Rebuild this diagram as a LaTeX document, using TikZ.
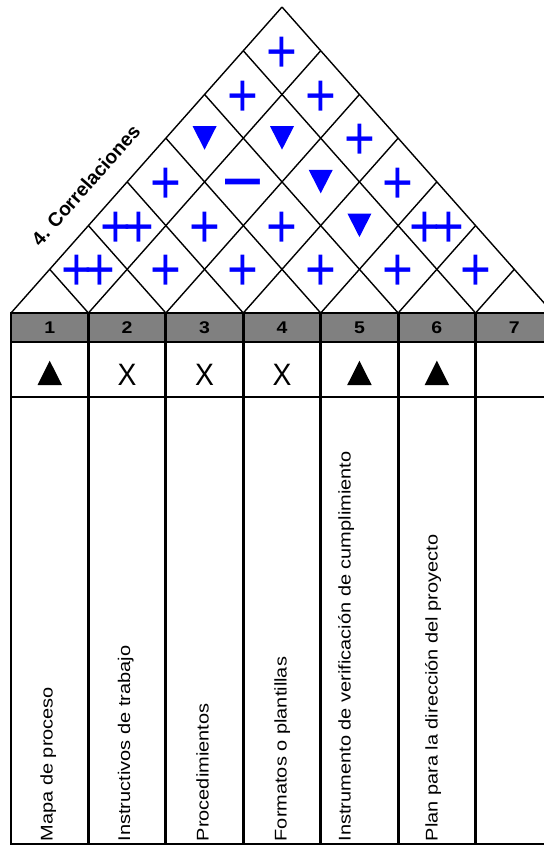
\documentclass[tikz,border=0pt]{standalone}
\usepackage{fontspec}
\setmainfont{Liberation Sans}
\usepackage{graphicx}
\definecolor{hdrgray}{RGB}{128,128,128}
\definecolor{symblue}{RGB}{0,0,255}
\newcommand\cellxy[2]{\pgfmathsetmacro\symx{11+77.43*(#2+(#1-1)/2)}\pgfmathsetmacro\symy{313-43.71*#1}}
\newcommand\Pone[3]{\cellxy{#1}{#2}\node[bsym] (#3) at (\symx,\symy+21.7) {\scalebox{1}[1.16]{+}};}
\newcommand\Ptwo[3]{\cellxy{#1}{#2}\node[bsym] (#3) at (\symx,\symy+21.7) {\scalebox{1}[1.16]{+\kern-7.6bp+}};}
\newcommand\Pminus[3]{\cellxy{#1}{#2}\node[bsym,font=\fontsize{63}{63}\selectfont] (#3) at (\symx,\symy+22) {\scalebox{1}[1.35]{–}};}
\newcommand\Pdown[2]{\cellxy{#1}{#2}\fill[symblue] (\symx-12,\symy-12) -- (\symx+12,\symy-12) -- (\symx,\symy+11.5) -- cycle;}
\begin{document}
\begin{tikzpicture}[x=1bp,y=-1bp,
  grid/.style={draw=black,line width=1.4bp},
  tbl/.style={draw=black,line width=2.8bp},
  bsym/.style={anchor=base,inner sep=0,text=symblue,font=\fontsize{53}{53}\selectfont},
  hdr/.style={inner sep=0,font=\bfseries\fontsize{17}{17}\selectfont},
  xmark/.style={anchor=base,inner sep=0,font=\fontsize{27}{27}\selectfont},
  coltext/.style={rotate=90,anchor=base west,inner sep=0,font=\fontsize{17}{17}\selectfont},
  title/.style={rotate=48.7,inner sep=0,font=\bfseries\fontsize{19.5}{19.5}\selectfont}]
\useasboundingbox (0,0) rectangle (544,846);
\clip (0,0) rectangle (544,846);
% header band
\fill[hdrgray] (11,313) rectangle (553,342);
% correlation triangle grid
\foreach \i in {0,...,7} {
  \pgfmathsetmacro\xa{11+77.43*\i}
  \pgfmathsetmacro\xr{(\xa+553)/2}
  \pgfmathsetmacro\yr{313-(553-\xa)/2*1.129}
  \pgfmathsetmacro\xl{(11+\xa)/2}
  \pgfmathsetmacro\yl{313-(\xa-11)/2*1.129}
  \draw[grid] (\xa,313) -- (\xr,\yr);
  \draw[grid] (\xa,313) -- (\xl,\yl);
}
% table lines
\draw[tbl] (11,313) rectangle (553,844);
\draw[tbl] (11,342) -- (553,342);
\draw[tbl] (11,397) -- (553,397);
\foreach \i in {1,...,6} {
  \pgfmathsetmacro\xa{11+77.43*\i}
  \draw[tbl] (\xa,313) -- (\xa,844);
}
% header numbers
\foreach \i in {1,...,7} {
  \pgfmathsetmacro\xc{11+77.43*(\i-0.5)}
  \node[hdr] (h\i) at (\xc,327.5) {\scalebox{1.15}[1]{\i}};
}
% importance row
\foreach \i in {1,5,6} {
  \pgfmathsetmacro\xc{11+77.43*(\i-0.5)}
  \fill[black] (\xc-12.2,385) -- (\xc+12.2,385) -- (\xc,360.7) -- cycle;
}
\foreach \i in {2,3,4} {
  \pgfmathsetmacro\xc{11+77.43*(\i-0.5)}
  \node[xmark] (x\i) at (\xc,385) {\scalebox{1.05}[1.15]{X}};
}
% column texts
\node[coltext] (t1) at (52.5,841.5) {\scalebox{1.18}[1]{Mapa de proceso}};
\node[coltext] (t2) at (130,841.5) {\scalebox{1.18}[1]{Instructivos de trabajo}};
\node[coltext] (t3) at (208.5,841.5) {\scalebox{1.18}[1]{Procedimientos}};
\node[coltext] (t4) at (286.5,841.5) {\scalebox{1.18}[1]{Formatos o plantillas}};
\node[coltext] (t5) at (350.5,841.5) {\scalebox{1.18}[1]{Instrumento de verificación de cumplimiento}};
\node[coltext] (t6) at (437.5,841.5) {\scalebox{1.18}[1]{Plan para la dirección del proyecto}};
% title
\node[title] (corr) at (85.7,185) {4. Correlaciones};
% correlation symbols
\Ptwo{1}{1}{s11} \Pone{1}{2}{s12} \Pone{1}{3}{s13} \Pone{1}{4}{s14} \Pone{1}{5}{s15} \Pone{1}{6}{s16}
\Ptwo{2}{1}{s21} \Pone{2}{2}{s22} \Pone{2}{3}{s23} \Pdown{2}{4} \Ptwo{2}{5}{s25}
\Pone{3}{1}{s31} \Pminus{3}{2}{s32} \Pdown{3}{3} \Pone{3}{4}{s34}
\Pdown{4}{1} \Pdown{4}{2} \Pone{4}{3}{s43}
\Pone{5}{1}{s51} \Pone{5}{2}{s52}
\Pone{6}{1}{s61}
\end{tikzpicture}
\end{document}
